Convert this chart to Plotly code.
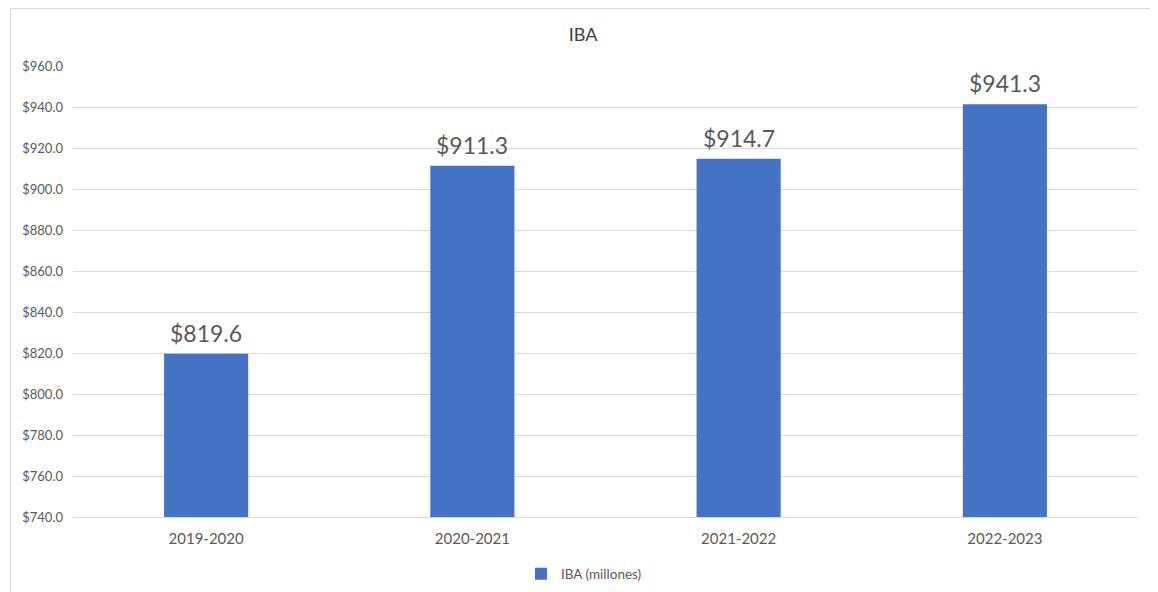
import plotly.graph_objects as go

# data
periods = ["2019-2020", "2020-2021", "2021-2022", "2022-2023"]
iba_values = [819.6, 911.3, 914.7, 941.3]
series_name = "IBA (millones)"
chart_title = "IBA"

# the page body adds an 8px margin, so lay out in shifted pixels
OFF = 8
W, H = 1158 - OFF, 592 - OFF
left, right, top, bottom = 73 - OFF, 1138 - OFF, 66 - OFF, 517 - OFF
pw, ph = right - left, bottom - top

text_grey = "#595959"
grid_grey = "#D9D9D9"
bar_blue = "#4472C4"

fig = go.Figure()
fig.add_trace(go.Bar(
    x=periods,
    y=iba_values,
    name=series_name,
    marker=dict(color=bar_blue, line=dict(width=0)),
))

for p, v in zip(periods, iba_values):
    fig.add_annotation(
        x=p, y=v, text="${:,.1f}".format(v),
        showarrow=False, yanchor="middle", yshift=21,
        font=dict(size=23, color=text_grey),
    )


def px_x(x):
    return (x - OFF - left) / pw


def px_y(y):
    return (bottom - (y - OFF)) / ph


fig.update_layout(
    width=W,
    height=H,
    margin=dict(l=left, r=W - right, t=top, b=H - bottom),
    paper_bgcolor="white",
    plot_bgcolor="white",
    font=dict(family="Lato, Carlito, Calibri, sans-serif", color=text_grey),
    title=dict(text=chart_title, x=0.5, xanchor="center", y=1 - (35 - OFF) / H, yanchor="middle",
               font=dict(size=18, color="#404040")),
    bargap=0.684,
    showlegend=True,
    legend=dict(orientation="h", x=px_x(584), xanchor="center",
                yref="container", y=1 - (574 - OFF) / H, yanchor="middle",
                font=dict(size=13.5, color=text_grey), itemwidth=30),
    shapes=[dict(type="rect", xref="paper", yref="paper",
                 x0=px_x(10.5), x1=px_x(1154.5), y0=px_y(610), y1=px_y(8.5),
                 line=dict(color=grid_grey, width=1), layer="below")],
)

fig.update_yaxes(
    range=[740, 960],
    dtick=20,
    tick0=740,
    tickformat="$,.1f",
    showgrid=True,
    gridcolor=grid_grey,
    gridwidth=1,
    zeroline=False,
    showline=False,
    tickfont=dict(size=13, color=text_grey),
    ticklabelstandoff=9,
)
fig.update_xaxes(
    showgrid=False,
    showline=True,
    linecolor=grid_grey,
    linewidth=1,
    ticks="",
    tickfont=dict(size=15, color=text_grey),
    ticklabelstandoff=8,
)

fig.write_html("out.html")
